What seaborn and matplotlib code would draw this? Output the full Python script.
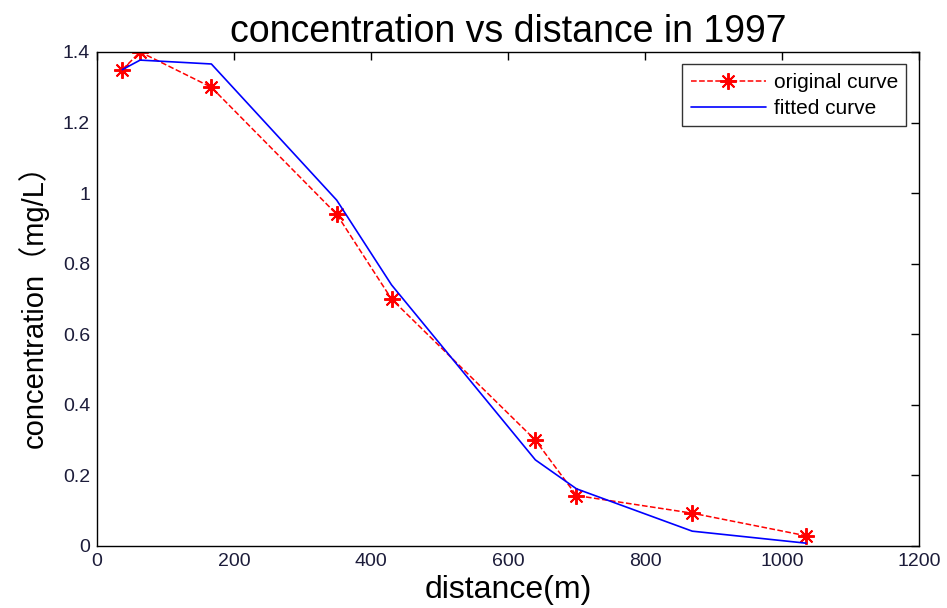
import matplotlib
matplotlib.use("Agg")
import matplotlib.pyplot as plt
import seaborn as sns
import pandas as pd

distance = [37, 63, 167, 350, 430, 640, 700, 869, 1035]
original = [1.35, 1.40, 1.30, 0.94, 0.70, 0.30, 0.143, 0.093, 0.029]
fitted = [1.35, 1.377, 1.366, 0.98, 0.74, 0.244, 0.162, 0.042, 0.008]
xticks = [0, 200, 400, 600, 800, 1000, 1200]
yticks = [0, 0.2, 0.4, 0.6, 0.8, 1.0, 1.2, 1.4]
ytick_labels = ["0", "0.2", "0.4", "0.6", "0.8", "1", "1.2", "1.4"]

sns.set_style("white")
plt.rcParams['font.family'] = ['Liberation Sans', 'Noto Sans CJK SC', 'DejaVu Sans']

df = pd.DataFrame({"distance": distance, "original": original, "fitted": fitted})

fig = plt.figure(figsize=(9.47, 6.08), dpi=100)
ax = fig.add_axes([0.1024, 0.102, 0.868, 0.8125])

sns.lineplot(data=df, x="distance", y="original", ax=ax, color="red", linestyle="--",
             linewidth=1.1, marker=(8, 2, 0), markersize=12, markeredgewidth=1.4,
             markeredgecolor="red", label="original curve", sort=False)
sns.lineplot(data=df, x="distance", y="fitted", ax=ax, color="blue", linestyle="-",
             linewidth=1.2, label="fitted curve", sort=False)

ax.set_xlim(0, 1200)
ax.set_ylim(0, 1.4)
ax.set_xticks(xticks)
ax.set_xticklabels([str(t) for t in xticks])
ax.set_yticks(yticks)
ax.set_yticklabels(ytick_labels)
ax.tick_params(direction="in", length=6, width=1, top=True, right=True,
               labelsize=14, colors="black", labelcolor="#1c1c3a", pad=5)
for s in ax.spines.values():
    s.set_color("black")
    s.set_linewidth(1.0)

ax.set_title("concentration vs distance in 1997", fontsize=27, pad=7, color="black")
ax.set_xlabel("distance(m)", fontsize=23, labelpad=4, color="black")
ax.set_ylabel("concentration（mg/L）", fontsize=21, labelpad=10, color="black")

leg = ax.legend(loc="upper right", fontsize=15, frameon=True, fancybox=False,
                borderaxespad=0.6, handlelength=3.6, handletextpad=0.4,
                labelspacing=0.35, borderpad=0.4, edgecolor="black")
leg.get_frame().set_linewidth(1.0)
for t in leg.get_texts():
    t.set_color("black")

fig.savefig("out.png", dpi=100, facecolor="white")
